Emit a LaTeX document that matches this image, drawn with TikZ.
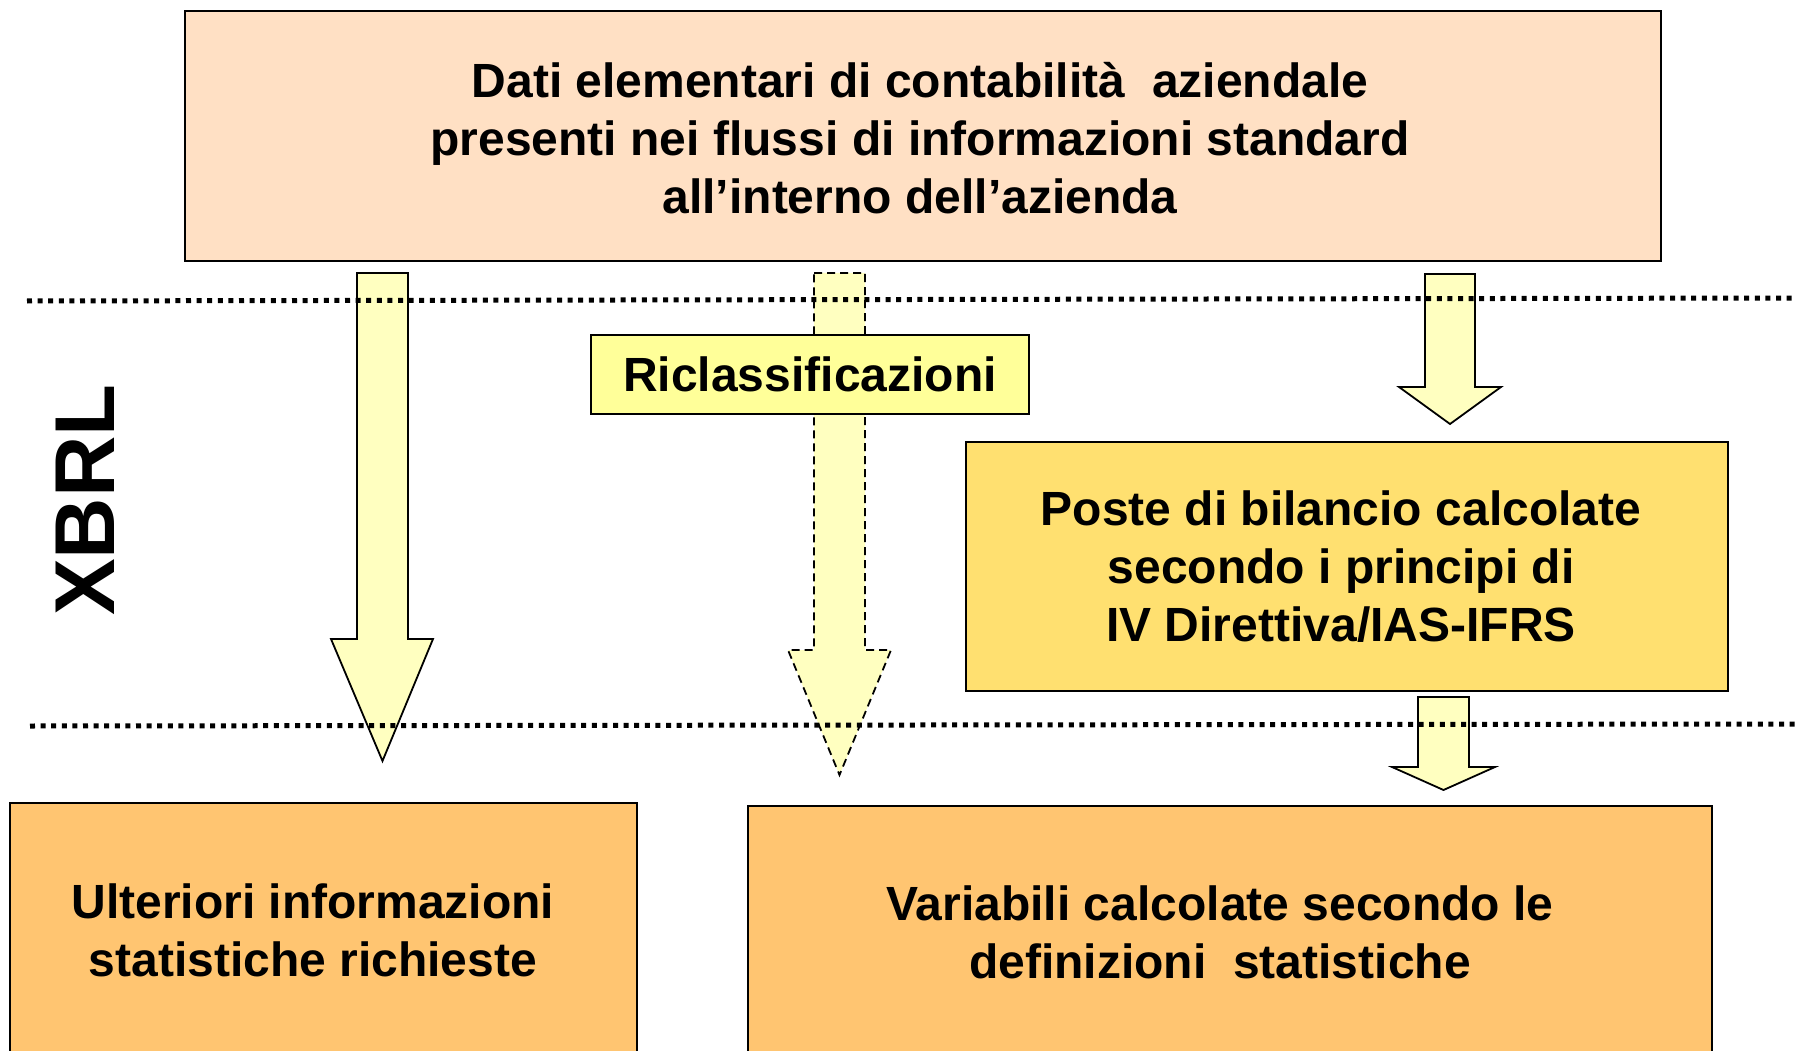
\documentclass[tikz,border=0pt]{standalone}
\usepackage{fontspec}
\setmainfont{Liberation Sans}
\definecolor{peach}{HTML}{FFE0C4}
\definecolor{gold}{HTML}{FFE070}
\definecolor{orangebox}{HTML}{FFC571}
\definecolor{lightyel}{HTML}{FFFFC0}
\definecolor{riclyel}{HTML}{FFFF99}
\tikzset{
  box/.style={draw=black, line width=1.5pt, inner sep=0pt},
  txt/.style={font=\fontsize{48}{58}\selectfont\bfseries, align=center, inner sep=0pt},
  blockarrow/.style={draw=black, line width=1.8pt, fill=lightyel, line join=miter},
  dashedarrow/.style={blockarrow, dash pattern=on 8pt off 5pt},
  dotline/.style={line width=5pt, dash pattern=on 5pt off 5.6pt, black}
}
\begin{document}
\begin{tikzpicture}[x=1pt,y=-1pt]
\useasboundingbox (0,0) rectangle (1797,1051);
\fill[white] (0,0) rectangle (1797,1051);
% top box
\node[box, fill=peach, minimum width=1476pt, minimum height=250pt] (top) at (923,136) {};
\node[txt] (toptxt) at (920,138) {Dati elementari di contabilità\ \ aziendale\\presenti nei flussi di informazioni standard\\all’interno dell’azienda};
% block arrows
\draw[blockarrow] (357,273) -- (408,273) -- (408,639) -- (433,639) -- (382.5,761) -- (331,639) -- (357,639) -- cycle;
\draw[dashedarrow] (814,273) -- (865,273) -- (865,650) -- (891,650) -- (839.5,775) -- (788,650) -- (814,650) -- cycle;
\draw[blockarrow] (1425,274) -- (1475,274) -- (1475,387) -- (1501,387) -- (1450,424) -- (1399,387) -- (1425,387) -- cycle;
\draw[blockarrow] (1418,697) -- (1469,697) -- (1469,767) -- (1495,767) -- (1443.5,790) -- (1392,767) -- (1418,767) -- cycle;
% boxes
\node[box, fill=riclyel, minimum width=438pt, minimum height=79pt, txt] (ricl) at (810,374.5) {Riclassificazioni};
\node[box, fill=gold, minimum width=762pt, minimum height=249pt] (poste) at (1347,566.5) {};
\node[txt] (postetxt) at (1341,567) {Poste di bilancio calcolate\\secondo i principi di\\IV Direttiva/IAS-IFRS};
\node[box, fill=orangebox, minimum width=627pt, minimum height=260pt] (ult) at (323.5,933) {};
\node[txt] (ulttxt) at (313,930) {Ulteriori informazioni\\statistiche richieste};
\node[box, fill=orangebox, minimum width=964pt, minimum height=258pt] (var) at (1230,935) {};
\node[txt] (vartxt) at (1220,932) {Variabili calcolate secondo le\\definizioni\ \ statistiche};
% XBRL
\node[rotate=90, font=\fontsize{85}{100}\selectfont\bfseries, inner sep=0pt] (xbrl) at (85,500) {XBRL};
% dotted lines
\coordinate (d1a) at (27,301);
\coordinate (d1b) at (1797,298);
\coordinate (d2a) at (30,726);
\coordinate (d2b) at (1797,724);
\draw[dotline] (d1a) -- (d1b);
\draw[dotline] (d2a) -- (d2b);
\end{tikzpicture}
\end{document}
